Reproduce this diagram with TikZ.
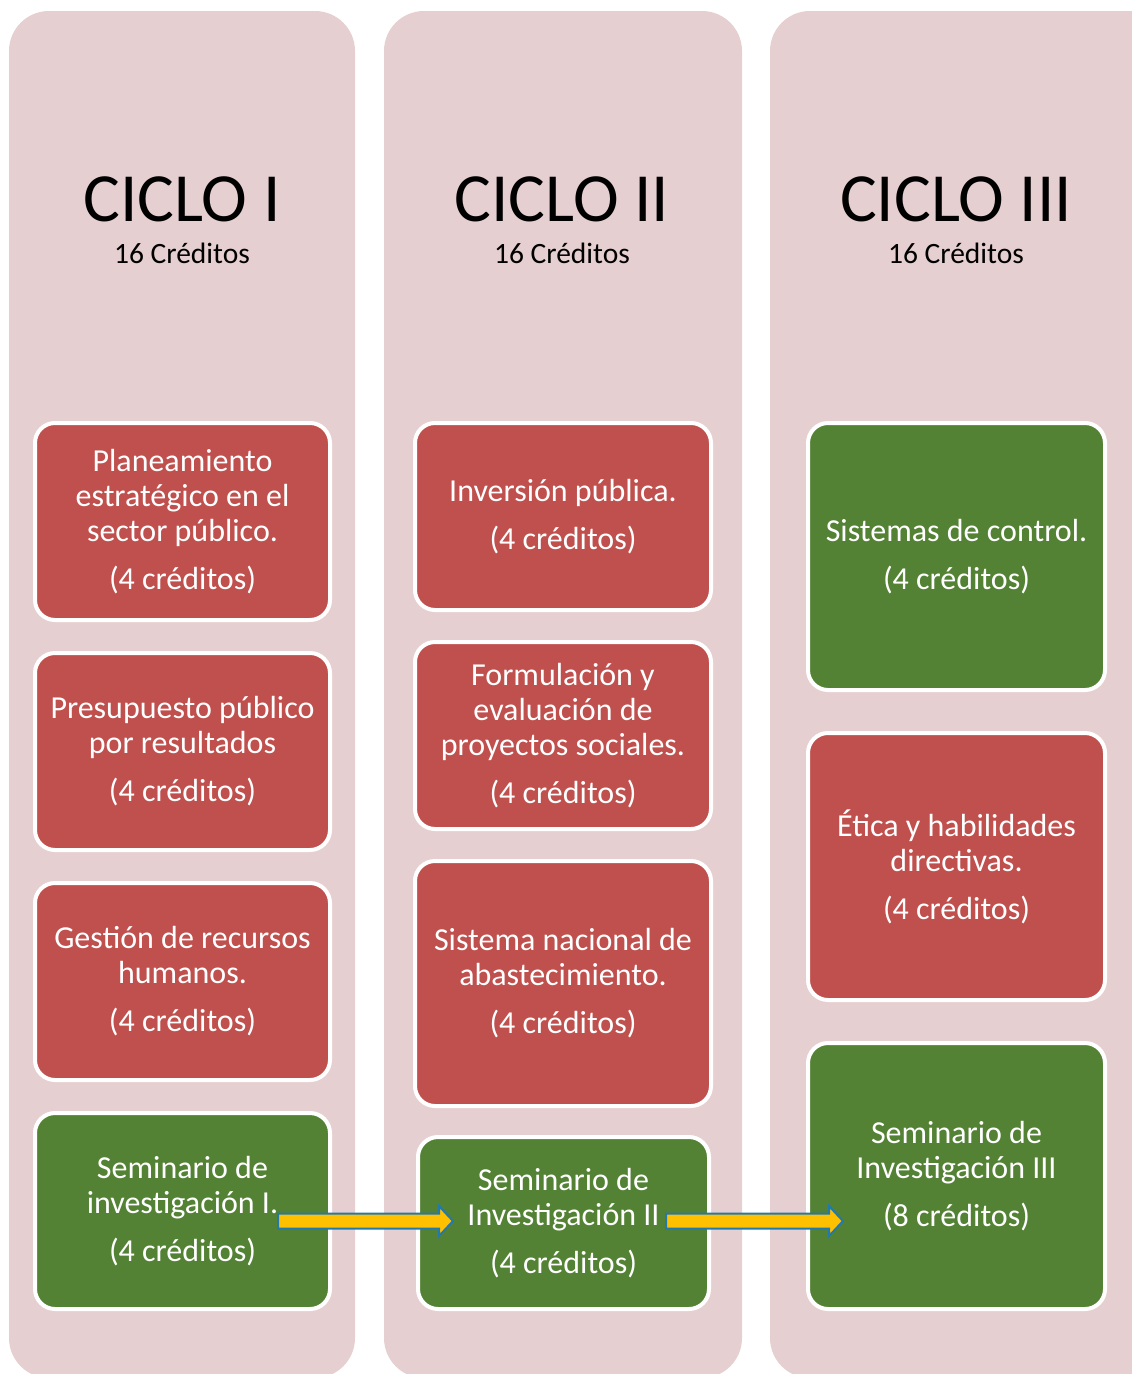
\documentclass[tikz,border=0pt]{standalone}
\usepackage{fontspec}
\setmainfont{Carlito}
\usetikzlibrary{calc}
\definecolor{colbg}{HTML}{E6CFD0}
\definecolor{boxred}{HTML}{C0504D}
\definecolor{boxgreen}{HTML}{548235}
\definecolor{arrfill}{HTML}{FFC000}
\definecolor{arrdraw}{HTML}{2179AE}
\tikzset{
  column/.style={fill=colbg, rounded corners=40pt},
  course/.style={draw=white, line width=4pt, rounded corners=20pt, text=white,
    align=center, font=\fontsize{32}{35}\selectfont, inner sep=0pt},
  redbox/.style={course, fill=boxred},
  greenbox/.style={course, fill=boxgreen},
  title/.style={font=\fontsize{69}{70}\selectfont, anchor=base, inner sep=0pt},
  subtitle/.style={font=\fontsize{29.5}{31}\selectfont, anchor=base, inner sep=0pt},
  fatarrow/.style={fill=arrfill, draw=arrdraw, line width=2pt, line join=miter},
}
\newcommand{\gp}{\\[13pt]}
\newcommand{\myarrow}[2]{%
  \path[fatarrow] ($(#1)+(0,-7.5)$) -- ($(#2)+(-14,-7.5)$) -- ($(#2)+(-14,-15)$) -- (#2)
    -- ($(#2)+(-14,15)$) -- ($(#2)+(-14,7.5)$) -- ($(#1)+(0,7.5)$) -- cycle;}
\begin{document}
\begin{tikzpicture}[x=1pt,y=-1pt]
\useasboundingbox (0,0) rectangle (1132,1374);
\begin{scope}
\clip (0,0) rectangle (1132,1374);
\fill[column] (9,11) rectangle (355,1378);
\fill[column] (384,11) rectangle (742,1378);
\fill[column] (770,11) rectangle (1180,1378);
\end{scope}
% titles
\node[title] (t1) at (182,221) {CICLO I};
\node[subtitle] (s1) at (182,263) {16 Créditos};
\node[title] (t2) at (562,221) {CICLO II};
\node[subtitle] (s2) at (562,263) {16 Créditos};
\node[title] (t3) at (956,221) {CICLO III};
\node[subtitle] (s3) at (956,263) {16 Créditos};
% column 1
\node[redbox, minimum width=295pt, minimum height=197pt] (c1a) at (182.5,521.5)
  {Planeamiento\\estratégico en el\\sector público.\gp(4 créditos)};
\node[redbox, minimum width=295pt, minimum height=197pt] (c1b) at (182.5,751.5)
  {Presupuesto público\\por resultados\gp(4 créditos)};
\node[redbox, minimum width=295pt, minimum height=197pt] (c1c) at (182.5,981.5)
  {Gestión de recursos\\humanos.\gp(4 créditos)};
\node[greenbox, minimum width=295pt, minimum height=196pt] (c1d) at (182.5,1211)
  {Seminario de\\investigación I.\gp(4 créditos)};
% column 2
\node[redbox, minimum width=296pt, minimum height=187pt] (c2a) at (563,516.5)
  {Inversión pública.\gp(4 créditos)};
\node[redbox, minimum width=296pt, minimum height=187pt] (c2b) at (563,735.5)
  {Formulación y\\evaluación de\\proyectos sociales.\gp(4 créditos)};
\node[redbox, minimum width=296pt, minimum height=245pt] (c2c) at (563,983.5)
  {Sistema nacional de\\abastecimiento.\gp(4 créditos)};
\node[greenbox, minimum width=291pt, minimum height=172pt] (c2d) at (563.5,1223)
  {Seminario de\\Investigación II\gp(4 créditos)};
% column 3
\node[greenbox, minimum width=297pt, minimum height=267pt] (c3a) at (956.5,556.5)
  {Sistemas de control.\gp(4 créditos)};
\node[redbox, minimum width=297pt, minimum height=267pt] (c3b) at (956.5,866.5)
  {Ética y habilidades\\directivas.\gp(4 créditos)};
\node[greenbox, minimum width=297pt, minimum height=266pt] (c3c) at (956.5,1176)
  {Seminario de\\Investigación III\gp(8 créditos)};
% arrows
\coordinate (a1s) at ($(c1d.east |- 0,1221)+(-54,0)$);
\coordinate (a1e) at ($(c2d.west |- 0,1221)+(37,0)$);
\coordinate (a2s) at ($(c2d.east |- 0,1221)+(-45,0)$);
\coordinate (a2e) at ($(c3c.west |- 0,1221)+(37,0)$);
\myarrow{a1s}{a1e}
\myarrow{a2s}{a2e}
\end{tikzpicture}
\end{document}
